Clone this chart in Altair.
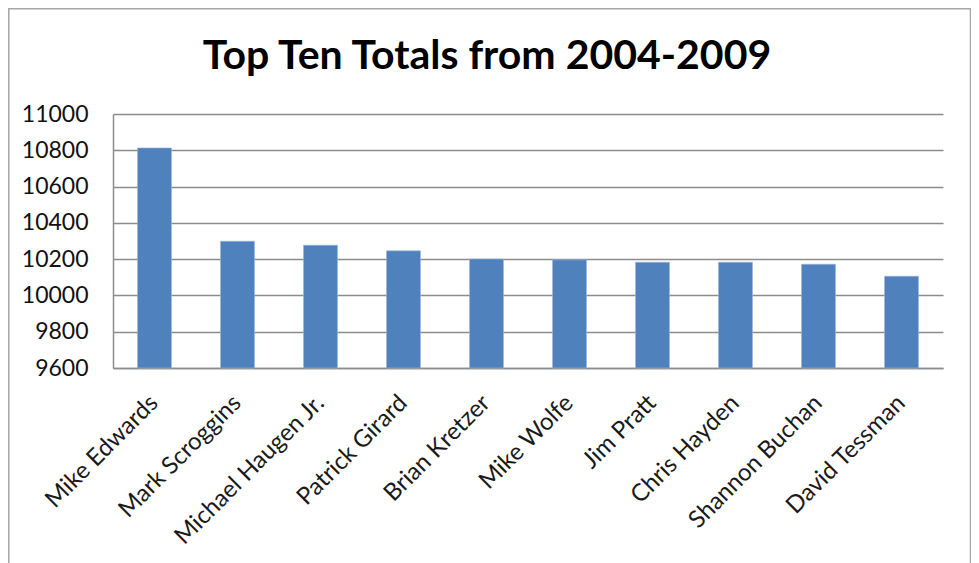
import altair as alt
import pandas as pd

title_text = ["Top Ten Totals from 2004-2009"]
names = ["Mike Edwards", "Mark Scroggins", "Michael Haugen Jr.", "Patrick Girard",
         "Brian Kretzer", "Mike Wolfe", "Jim Pratt", "Chris Hayden",
         "Shannon Buchan", "David Tessman"]
totals = [10813, 10299, 10277, 10246, 10201, 10196, 10183, 10183, 10172, 10106]
y_ticks = [9600, 9800, 10000, 10200, 10400, 10600, 10800, 11000]

df = pd.DataFrame({"name": names, "total": totals})
tdf = pd.DataFrame({"t": title_text})

FONT = "Lato"

bars = alt.Chart(df).mark_bar(color="#4F81BD", stroke="#9DB8DC", strokeWidth=0.6).encode(
    x=alt.X("name:N", sort=names, title=None,
            scale=alt.Scale(paddingInner=0.59, paddingOuter=0.295),
            axis=alt.Axis(labelAngle=-45, labelAlign="right", labelBaseline="middle",
                          labelPadding=31, ticks=False, domain=True,
                          domainColor="#8c8c8c", domainWidth=1.5,
                          labelFont=FONT, labelFontSize=24, labelColor="#1a1a1a",
                          labelLimit=400, grid=False)),
    y=alt.Y("total:Q", title=None,
            scale=alt.Scale(domain=[9600, 11000], zero=False, nice=False),
            axis=alt.Axis(values=y_ticks, ticks=False, domain=True, format="d",
                          domainColor="#8c8c8c", domainWidth=1.5,
                          grid=True, gridColor="#8c8c8c", gridWidth=1.5,
                          labelFont=FONT, labelFontSize=23, labelColor="#111111",
                          labelPadding=25)),
    y2=alt.datum(9600),
)

frame = alt.Chart(tdf).mark_rect(fill="#ffffff", fillOpacity=0, stroke="#a6a6a6",
                                 strokeWidth=1.5).encode(
    x=alt.value(-104.2), x2=alt.value(857.5), y=alt.value(-105.2), y2=alt.value(600)
)

title = alt.Chart(tdf).mark_text(font=FONT, fontSize=41, fontWeight="bold",
                                 color="#000000", align="center",
                                 baseline="alphabetic").encode(
    text="t:N", x=alt.value(374), y=alt.value(-45)
)

chart = alt.layer(frame, bars, title).properties(
    width=830, height=254,
    autosize=alt.AutoSizeParams(type="none"),
    padding={"left": 105, "top": 106, "right": 28, "bottom": 195},
).configure_view(stroke=None)

chart.save("out.html", embed_options={"renderer": "svg", "actions": False})
